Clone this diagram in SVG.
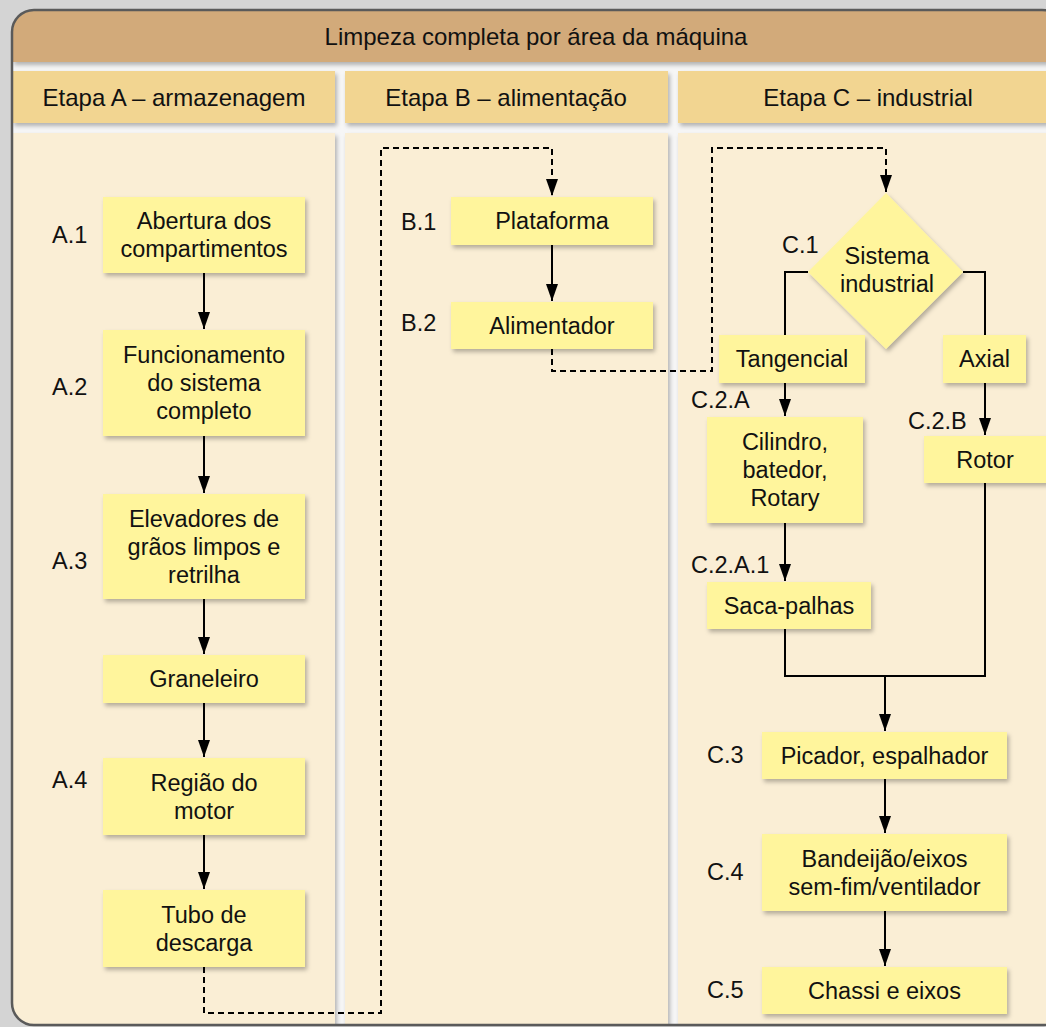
<svg xmlns="http://www.w3.org/2000/svg" width="1046" height="1027" viewBox="0 0 1046 1027">
<defs>
<style>
text{font-family:"Liberation Sans",Arial,sans-serif;fill:#111;}
.t{font-size:24px;text-anchor:middle;}
.n{font-size:23.5px;text-anchor:middle;}
.l{font-size:23.5px;text-anchor:start;}
.box{fill:#fff59c;filter:url(#sh);}
.hdr{fill:#f2d591;filter:url(#sh);}
.col{fill:#faeed5;filter:url(#sh);}
.c{fill:none;stroke:#000;stroke-width:2;}
.d{fill:none;stroke:#000;stroke-width:2;stroke-dasharray:6 4;}
</style>
<filter id="sh" x="-10%" y="-10%" width="130%" height="140%">
<feDropShadow dx="2" dy="3" stdDeviation="2.2" flood-color="#000" flood-opacity="0.28"/>
</filter>
<marker id="ar" viewBox="0 0 17 12" refX="17" refY="6" markerWidth="17" markerHeight="12" markerUnits="userSpaceOnUse" orient="auto">
<path d="M0,0 L17,6 L0,12 z" fill="#000"/>
</marker>
<clipPath id="fr"><rect x="12" y="10" width="1052" height="1015" rx="22"/></clipPath>
</defs>
<rect x="0" y="0" width="1046" height="1027" fill="#d4d4d4"/>
<rect x="12" y="10" width="1052" height="1015" rx="22" fill="#f6f6f6"/>
<g clip-path="url(#fr)">
<rect x="12" y="10" width="1052" height="52" fill="#d2aa7a" filter="url(#sh)"/>
<rect class="hdr" x="12" y="71" width="323" height="52"/>
<rect class="hdr" x="345" y="71" width="323" height="52"/>
<rect class="hdr" x="678" y="71" width="380" height="52"/>
<rect class="col" x="12" y="133" width="323" height="900"/>
<rect class="col" x="345" y="133" width="323" height="900"/>
<rect class="col" x="678" y="133" width="380" height="900"/>
</g>
<rect x="12" y="10" width="1052" height="1015" rx="22" fill="none" stroke="#5a5a5a" stroke-width="2.5"/>
<g id="headers">
<text class="t" x="536" y="45">Limpeza completa por área da máquina</text>
<text class="t" x="174" y="105.5">Etapa A – armazenagem</text>
<text class="t" x="506" y="105.5">Etapa B – alimentação</text>
<text class="t" x="868" y="105.5">Etapa C – industrial</text>
</g>
<g id="connectors">
<line class="c" x1="204" y1="273" x2="204" y2="329" marker-end="url(#ar)"/>
<line class="c" x1="204" y1="436" x2="204" y2="493" marker-end="url(#ar)"/>
<line class="c" x1="204" y1="599" x2="204" y2="654" marker-end="url(#ar)"/>
<line class="c" x1="204" y1="703" x2="204" y2="757" marker-end="url(#ar)"/>
<line class="c" x1="204" y1="835" x2="204" y2="889" marker-end="url(#ar)"/>
<polyline class="d" points="204,967 204,1013 381,1013 381,148 552,148 552,196" marker-end="url(#ar)"/>
<line class="c" x1="552" y1="245" x2="552" y2="301" marker-end="url(#ar)"/>
<polyline class="d" points="552,349 552,371 712,371 712,148 886,148 886,192" marker-end="url(#ar)"/>
<polyline class="c" points="808,272 785,272 785,335"/>
<polyline class="c" points="963,272 985,272 985,335"/>
<line class="c" x1="785" y1="383" x2="785" y2="416" marker-end="url(#ar)"/>
<line class="c" x1="985" y1="383" x2="985" y2="435" marker-end="url(#ar)"/>
<line class="c" x1="785" y1="523" x2="785" y2="581" marker-end="url(#ar)"/>
<polyline class="c" points="785,629 785,676 985,676 985,483"/>
<line class="c" x1="885" y1="676" x2="885" y2="731" marker-end="url(#ar)"/>
<line class="c" x1="885" y1="779" x2="885" y2="833" marker-end="url(#ar)"/>
<line class="c" x1="885" y1="911" x2="885" y2="966" marker-end="url(#ar)"/>
</g>
<g id="A1"><rect class="box" x="103" y="197" width="202" height="76"/><text class="n" x="204" y="229.4">Abertura dos</text><text class="n" x="204" y="257.4">compartimentos</text><text class="l" x="52" y="243">A.1</text></g>
<g id="A2"><rect class="box" x="103" y="330" width="202" height="106"/><text class="n" x="204" y="363.4">Funcionamento</text><text class="n" x="204" y="391.4">do sistema</text><text class="n" x="204" y="419.4">completo</text><text class="l" x="52" y="395">A.2</text></g>
<g id="A3"><rect class="box" x="103" y="494" width="202" height="105"/><text class="n" x="204" y="526.9">Elevadores de</text><text class="n" x="204" y="554.9">grãos limpos e</text><text class="n" x="204" y="582.9">retrilha</text><text class="l" x="52" y="569">A.3</text></g>
<g id="Graneleiro"><rect class="box" x="103" y="655" width="202" height="48"/><text class="n" x="204" y="687.4">Graneleiro</text></g>
<g id="A4"><rect class="box" x="103" y="758" width="202" height="77"/><text class="n" x="204" y="790.9">Região do</text><text class="n" x="204" y="818.9">motor</text><text class="l" x="52" y="788">A.4</text></g>
<g id="Tubo"><rect class="box" x="103" y="890" width="202" height="77"/><text class="n" x="204" y="922.9">Tubo de</text><text class="n" x="204" y="950.9">descarga</text></g>
<g id="B1"><rect class="box" x="451" y="197" width="202" height="48"/><text class="n" x="552" y="229.4">Plataforma</text><text class="l" x="401" y="230">B.1</text></g>
<g id="B2"><rect class="box" x="451" y="302" width="202" height="47"/><text class="n" x="552" y="334">Alimentador</text><text class="l" x="401" y="331">B.2</text></g>
<g id="C1"><polygon points="886,193 963,272 886,349 808,272" fill="#fff59c" filter="url(#sh)"/><text class="n" x="887" y="264">Sistema</text><text class="n" x="887" y="292">industrial</text><text class="l" x="782" y="253">C.1</text></g>
<g id="Tangencial"><rect class="box" x="719" y="335" width="146" height="48"/><text class="n" x="792" y="367.4">Tangencial</text></g>
<g id="Axial"><rect class="box" x="943" y="335" width="83" height="48"/><text class="n" x="984.5" y="367.4">Axial</text></g>
<g id="C2A"><rect class="box" x="707" y="417" width="156" height="106"/><text class="n" x="785" y="450.4">Cilindro,</text><text class="n" x="785" y="478.4">batedor,</text><text class="n" x="785" y="506.4">Rotary</text><text class="l" x="691" y="408">C.2.A</text></g>
<g id="C2B"><rect class="box" x="924" y="436" width="124" height="47"/><text class="n" x="985" y="468">Rotor</text><text class="l" x="908" y="429">C.2.B</text></g>
<g id="C2A1"><rect class="box" x="707" y="582" width="164" height="47"/><text class="n" x="789" y="614">Saca-palhas</text><text class="l" x="691" y="573">C.2.A.1</text></g>
<g id="C3"><rect class="box" x="762" y="732" width="245" height="47"/><text class="n" x="884.5" y="764">Picador, espalhador</text><text class="l" x="707" y="763">C.3</text></g>
<g id="C4"><rect class="box" x="762" y="834" width="245" height="77"/><text class="n" x="884.5" y="866.9">Bandeijão/eixos</text><text class="n" x="884.5" y="894.9">sem-fim/ventilador</text><text class="l" x="707" y="880">C.4</text></g>
<g id="C5"><rect class="box" x="762" y="967" width="245" height="47"/><text class="n" x="884.5" y="999">Chassi e eixos</text><text class="l" x="707" y="998">C.5</text></g>
</svg>
